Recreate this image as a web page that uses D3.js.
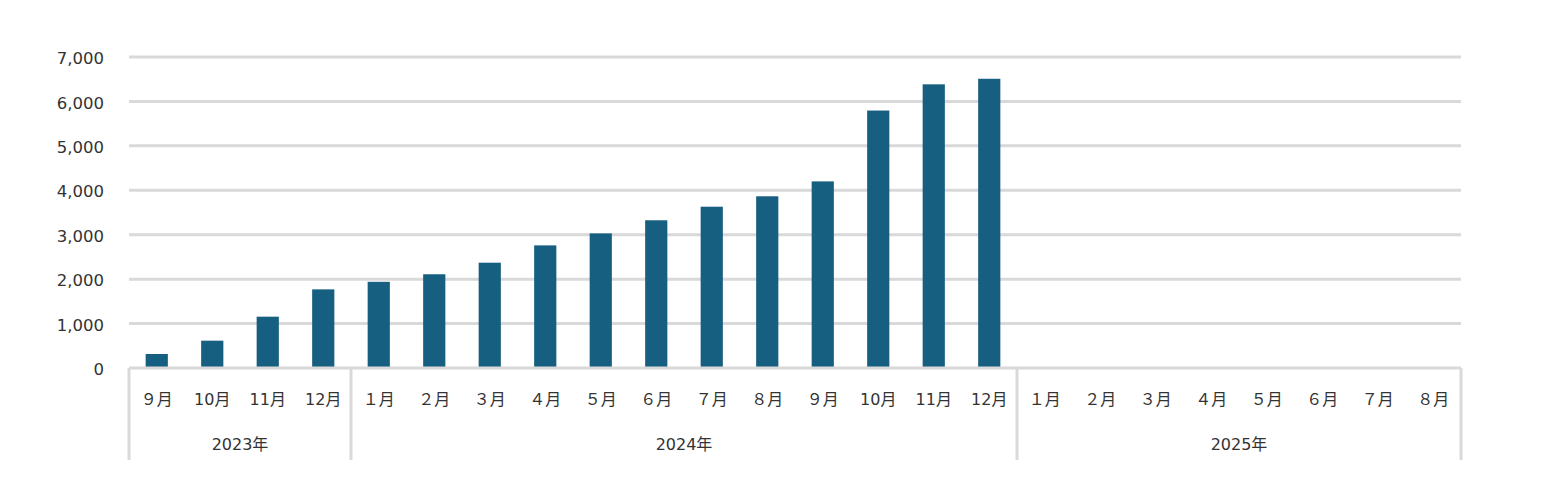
<!DOCTYPE html>
<html><head><meta charset="utf-8">
<script src="https://cdn.jsdelivr.net/npm/d3@7"></script>
<style>body{margin:0;background:#fff;} svg{display:block;}</style>
</head><body>
<svg id="c" width="1559" height="487"></svg>
<script>
const months = ["９月","10月","11月","12月","１月","２月","３月","４月","５月","６月","７月","８月","９月","10月","11月","12月","１月","２月","３月","４月","５月","６月","７月","８月"];
const years = ["2023年","2024年","2025年"];
const yearSpans = [4, 12, 8];
const values = [315, 615, 1155, 1770, 1940, 2110, 2370, 2760, 3030, 3325, 3630, 3865, 4200, 5795, 6385, 6510, null, null, null, null, null, null, null, null];
const yTicks = [0, 1000, 2000, 3000, 4000, 5000, 6000, 7000];

const svg = d3.select("#c");
const L = 129, R = 1461, T = 57, B = 368;
const idx = d3.range(months.length);
const x = d3.scaleBand().domain(idx).range([L, R]).paddingInner(0.6).paddingOuter(0.3);
const y = d3.scaleLinear().domain([0, 7000]).range([B, T]);
const grid = "#d9d9d9", txt = "#333333";
const font = "'DejaVu Sans', 'Noto Sans CJK JP', sans-serif";

// gridlines
svg.append("g").selectAll("line").data(yTicks.filter(d => d > 0)).join("line")
  .attr("x1", L).attr("x2", R).attr("y1", d => y(d)).attr("y2", d => y(d))
  .attr("stroke", grid).attr("stroke-width", 3);

// y axis labels
const yAxis = d3.axisLeft(y).tickValues(yTicks).tickFormat(d3.format(",")).tickSize(0).tickPadding(25);
const ga = svg.append("g").attr("transform", `translate(${L},0)`).call(yAxis);
ga.select(".domain").remove();
ga.selectAll("text").attr("font-family", font).attr("font-size", 16.5).attr("fill", txt).attr("dy", "0.4em");

// bars
svg.append("g").selectAll("rect").data(idx.filter(i => values[i] != null)).join("rect")
  .attr("x", i => x(i)).attr("width", x.bandwidth())
  .attr("y", i => y(values[i])).attr("height", i => B - y(values[i]))
  .attr("fill", "#175f80");

// baseline
svg.append("line").attr("x1", L).attr("x2", R).attr("y1", B).attr("y2", B)
  .attr("stroke", grid).attr("stroke-width", 3);

// month labels
const step = x.step();
svg.append("g").selectAll("text").data(idx).join("text")
  .attr("x", i => x(i) + x.bandwidth() / 2).attr("y", 405)
  .attr("text-anchor", "middle").attr("font-family", font).attr("font-size", 16)
  .attr("fill", txt).text(i => months[i]);

// year groups
let start = 0;
const bounds = [0];
yearSpans.forEach(s => { start += s; bounds.push(start); });
const bx = b => L + b * step;
svg.append("g").selectAll("line").data(bounds).join("line")
  .attr("x1", b => bx(b)).attr("x2", b => bx(b)).attr("y1", B).attr("y2", 460)
  .attr("stroke", grid).attr("stroke-width", 3);
svg.append("g").selectAll("text").data(years).join("text")
  .attr("x", (d, i) => (bx(bounds[i]) + bx(bounds[i + 1])) / 2).attr("y", 450)
  .attr("text-anchor", "middle").attr("font-family", font).attr("font-size", 16)
  .attr("fill", txt).text(d => d);
</script>
</body></html>
